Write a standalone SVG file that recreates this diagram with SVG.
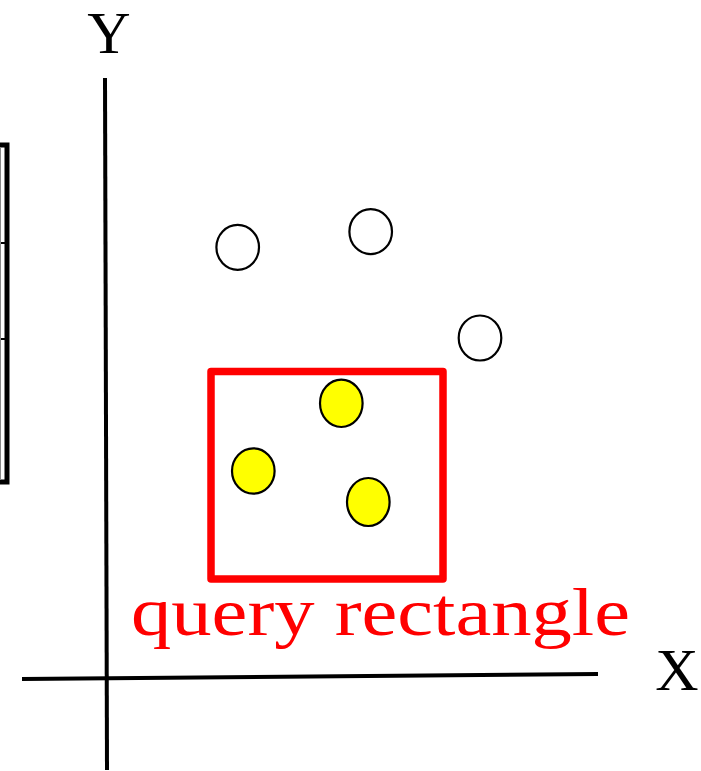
<svg xmlns="http://www.w3.org/2000/svg" width="701" height="771" viewBox="0 0 701 771">
<style>
.lbl{font-family:"Liberation Serif","Times New Roman",serif;fill:#000}
.pt{stroke:#000;stroke-width:2.2}
.open{fill:#fff}
.hit{fill:#ffff00}
.ax{stroke:#000;stroke-width:4;fill:none}
</style>
<rect width="701" height="771" fill="#fff"/>
<g id="side-bar">
<path d="M-2,145 H7 V482 H-2" fill="none" stroke="#000" stroke-width="5"/>
<line x1="0" y1="243" x2="9" y2="243" stroke="#000" stroke-width="2"/>
<line x1="0" y1="339" x2="9" y2="339" stroke="#000" stroke-width="2"/>
<line x1="0.5" y1="147" x2="0.5" y2="480" stroke="#888" stroke-width="1"/>
</g>
<g id="axes">
<line class="ax" x1="105" y1="78" x2="107" y2="770"/>
<line class="ax" x1="22" y1="679" x2="598" y2="674"/>
<text class="lbl" x="109" y="53" font-size="60" text-anchor="middle">Y</text>
<text class="lbl" x="677" y="690" font-size="60" text-anchor="middle">X</text>
</g>
<g id="query-rectangle">
<rect x="211" y="371.5" width="232" height="207.5" fill="none" stroke="#ff0000" stroke-width="7.5" stroke-linejoin="round"/>
<text x="131" y="635" font-size="68" textLength="499" lengthAdjust="spacingAndGlyphs" style="font-family:'Liberation Serif','Times New Roman',serif;fill:#ff0000">query rectangle</text>
</g>
<g id="points-outside">
<ellipse class="pt open" cx="237.7" cy="247.3" rx="21.3" ry="22.5"/>
<ellipse class="pt open" cx="370.7" cy="231.7" rx="21.3" ry="22.5"/>
<ellipse class="pt open" cx="480" cy="338" rx="21.3" ry="22.5"/>
</g>
<g id="points-inside">
<ellipse class="pt hit" cx="341.3" cy="403.3" rx="21.3" ry="23.7"/>
<ellipse class="pt hit" cx="253.3" cy="471" rx="21.3" ry="22.7"/>
<ellipse class="pt hit" cx="368.3" cy="502" rx="21.3" ry="24"/>
</g>
</svg>
